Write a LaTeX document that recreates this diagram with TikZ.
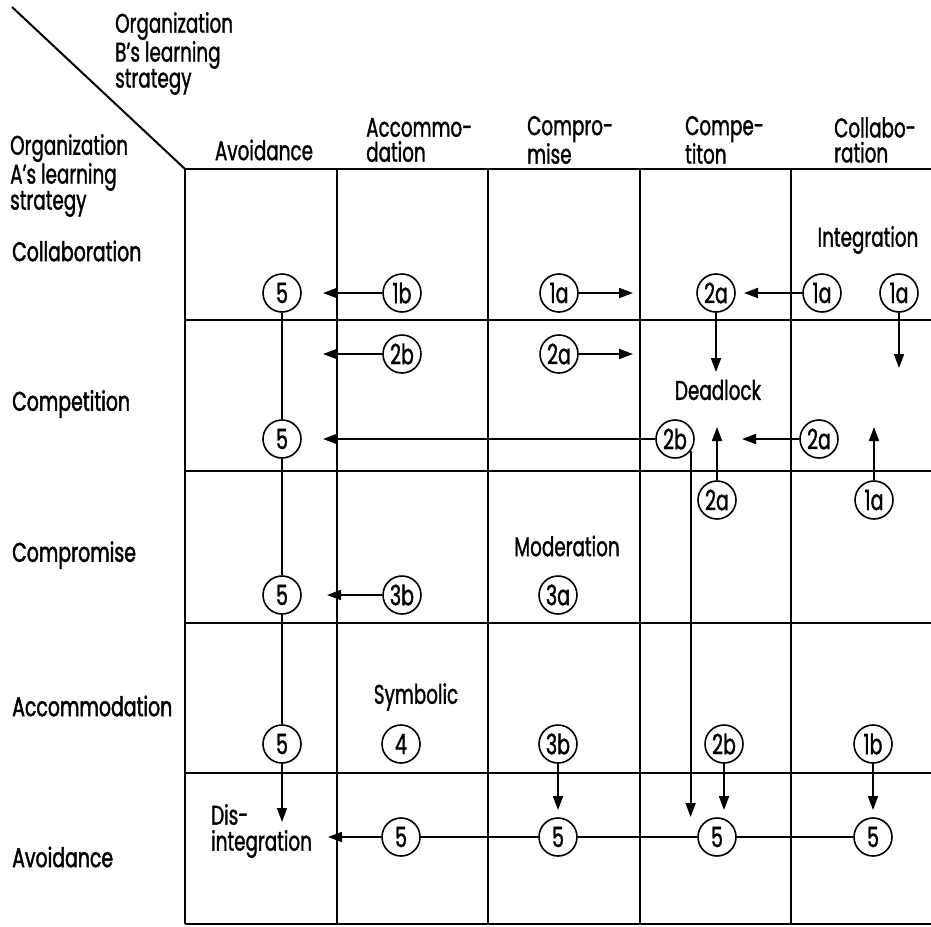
\documentclass[tikz,border=0pt]{standalone}
\usepackage{fontspec}
\setmainfont[FakeStretch=0.68, FakeBold=1.2]{Poppins}
\newfontfamily\rowfont[FakeStretch=0.7, FakeBold=1.6]{Poppins}
\usetikzlibrary{arrows.meta}

\tikzset{
	cell/.style={circle, draw, line width=1.6pt, inner sep=0pt, minimum size=38pt, font=\fontsize{28}{28}\selectfont},
	lab/.style={font=\fontsize{27}{25}\selectfont, align=left, inner sep=0pt},
	orglab/.style={font=\fontsize{27}{26}\selectfont, align=left, inner sep=0pt},
	rowlab/.style={font=\rowfont\fontsize{27}{27}\selectfont, anchor=west, inner sep=0pt},
	arr/.style={line width=1.8pt, -{Triangle[length=14pt,width=10pt]}},
	link/.style={line width=1.8pt},
	gridline/.style={line width=2pt}
}

\begin{document}
\begin{tikzpicture}[x=1pt, y=-1pt]
	\useasboundingbox (0,0) rectangle (931,926);
	% grid
	\foreach \x in {185,337,488,640,791}
		\draw[gridline] (\x,169) -- (\x,924);
	\foreach \y in {169,320,471,623,773,924}
		\draw[gridline] (185,\y) -- (931,\y);
	\draw[gridline] (12,7) -- (185,169);

	% axis labels
	\node[orglab, anchor=north west] (orgB) at (115,12) {Organization\\B's learning\\strategy};
	\node[orglab, anchor=north west] (orgA) at (10,134) {Organization\\A's learning\\strategy};

	\node[lab] (hAvo) at (264,150) {Avoidance};
	\node[lab, anchor=west] (hAcc) at (366,140) {Accommo-\\dation};
	\node[lab, anchor=west] (hCmp) at (527,140) {Compro-\\mise};
	\node[lab, anchor=west] (hCpt) at (685,140) {Compe-\\titon};
	\node[lab, anchor=west] (hCol) at (834,140) {Collabo-\\ration};

	\node[rowlab] (rCol) at (12,251) {Collaboration};
	\node[rowlab] (rCpt) at (12,404) {Competition};
	\node[rowlab] (rCmp) at (12,555) {Compromise};
	\node[rowlab] (rAcc) at (12,706) {Accommodation};
	\node[rowlab] (rAvo) at (12,857) {Avoidance};

	% outcomes
	\node[lab] (tInt) at (868,240) {Integration};
	\node[lab] (tDead) at (718,390) {Deadlock};
	\node[lab] (tMod) at (567,546) {Moderation};
	\node[lab] (tSym) at (416,697) {Symbolic};
	\node[orglab, anchor=west] (tDis) at (211,831) {Dis-\\integration};

	% collaboration row
	\node[cell] (a5) at (282,293) {5};
	\node[cell] (a1b) at (402,293) {1b};
	\node[cell] (a1a) at (559,293) {1a};
	\node[cell] (a2a) at (716,293) {2a};
	\node[cell] (a1aL) at (822,293) {1a};
	\node[cell] (a1aR) at (899,293) {1a};
	% competition row
	\node[cell] (b2bU) at (402,354) {2b};
	\node[cell] (b2aU) at (559,354) {2a};
	\node[cell] (b5) at (282,439) {5};
	\node[cell] (b2b) at (675,439) {2b};
	\node[cell] (b2a) at (819,439) {2a};
	% compromise row
	\node[cell] (c2a) at (717,500) {2a};
	\node[cell] (c1a) at (874,500) {1a};
	\node[cell] (c5) at (282,595) {5};
	\node[cell] (c3b) at (402,595) {3b};
	\node[cell] (c3a) at (558,595) {3a};
	% accommodation row
	\node[cell] (d5) at (282,744) {5};
	\node[cell] (d4) at (401,744) {4};
	\node[cell] (d3b) at (558,744) {3b};
	\node[cell] (d2b) at (724,744) {2b};
	\node[cell] (d1b) at (873,744) {1b};
	% avoidance row
	\node[cell] (e5a) at (401,837) {5};
	\node[cell] (e5b) at (558,837) {5};
	\node[cell] (e5c) at (717,837) {5};
	\node[cell] (e5d) at (873,837) {5};

	% arrow tips
	\coordinate (ta1b) at (323,293);
	\coordinate (ta1a) at (633,293);
	\coordinate (ta1aL) at (744,293);
	\coordinate (ta2a) at (716,372);
	\coordinate (ta1aR) at (899,368);
	\coordinate (tb2bU) at (323,354);
	\coordinate (tb2aU) at (633,354);
	\coordinate (tb2b) at (323,439);
	\coordinate (tb2bD) at (690,817);
	\coordinate (tb2a) at (742,439);
	\coordinate (tc2a) at (717,427);
	\coordinate (tc1a) at (874,427);
	\coordinate (tc3b) at (327,595);
	\coordinate (td5) at (282,822);
	\coordinate (td3b) at (558,810);
	\coordinate (td2b) at (724,810);
	\coordinate (td1b) at (873,810);
	\coordinate (te5a) at (328,837);

	\draw[arr] (a1b) -- (ta1b);
	\draw[arr] (a1a) -- (ta1a);
	\draw[arr] (a1aL) -- (ta1aL);
	\draw[arr] (a2a) -- (ta2a);
	\draw[arr] (a1aR) -- (ta1aR);
	\draw[arr] (b2bU) -- (tb2bU);
	\draw[arr] (b2aU) -- (tb2aU);
	\draw[arr] (b2b) -- (tb2b);
	\draw[arr] (b2b.-38) -- (b2b.-38 |- tb2bD);
	\draw[arr] (b2a) -- (tb2a);
	\draw[arr] (c2a) -- (tc2a);
	\draw[arr] (c1a) -- (tc1a);
	\draw[arr] (c3b) -- (tc3b);
	\draw[link] (a5) -- (b5) -- (c5) -- (d5);
	\draw[arr] (d5) -- (td5);
	\draw[arr] (d3b) -- (td3b);
	\draw[arr] (d2b) -- (td2b);
	\draw[arr] (d1b) -- (td1b);
	\draw[link] (e5d) -- (e5c) -- (e5b) -- (e5a);
	\draw[arr] (e5a) -- (te5a);
\end{tikzpicture}
\end{document}
